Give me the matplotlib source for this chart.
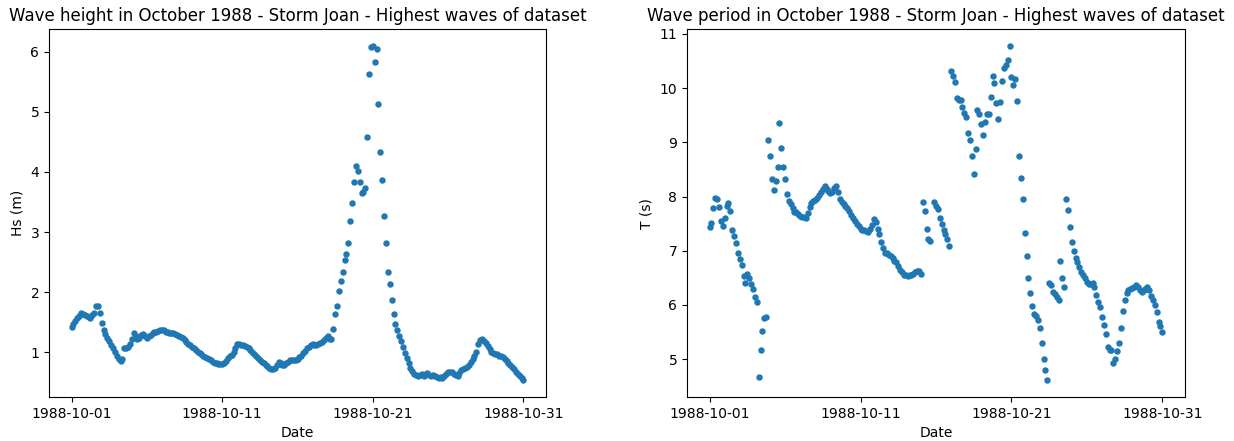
import numpy as np
import pandas as pd
import matplotlib
matplotlib.use("Agg")
import matplotlib.pyplot as plt
import matplotlib.dates as mdates

# 3-hourly wave record, 1988-10-01 00:00 to 1988-10-31 00:00
start = "1988-10-01"
end = "1988-10-31"
step = "3h"
tick_days = ["1988-10-01", "1988-10-11", "1988-10-21", "1988-10-31"]

# significant wave height (m), one row per day
hs = [
    1.42, 1.47, 1.52, 1.56, 1.60, 1.65, 1.63, 1.61,
    1.60, 1.58, 1.57, 1.62, 1.65, 1.77, 1.76, 1.65,
    1.49, 1.37, 1.30, 1.24, 1.18, 1.12, 1.06, 1.00,
    0.94, 0.89, 0.85, 0.88, 1.06, 1.07, 1.08, 1.13,
    1.22, 1.31, 1.27, 1.21, 1.24, 1.29, 1.30, 1.27,
    1.24, 1.27, 1.29, 1.31, 1.33, 1.33, 1.35, 1.36,
    1.37, 1.36, 1.34, 1.33, 1.31, 1.32, 1.32, 1.30,
    1.28, 1.26, 1.25, 1.23, 1.20, 1.17, 1.14, 1.11,
    1.08, 1.06, 1.03, 1.00, 0.98, 0.96, 0.93, 0.91,
    0.90, 0.88, 0.86, 0.84, 0.82, 0.81, 0.80, 0.80,
    0.80, 0.82, 0.85, 0.90, 0.93, 0.95, 1.00, 1.06,
    1.14, 1.13, 1.12, 1.11, 1.10, 1.09, 1.07, 1.04,
    1.00, 0.97, 0.93, 0.90, 0.87, 0.84, 0.81, 0.79,
    0.77, 0.74, 0.72, 0.71, 0.73, 0.78, 0.84, 0.82,
    0.79, 0.78, 0.81, 0.84, 0.86, 0.87, 0.86, 0.86,
    0.88, 0.91, 0.94, 0.98, 1.02, 1.06, 1.09, 1.12,
    1.13, 1.11, 1.12, 1.14, 1.15, 1.17, 1.20, 1.23,
    1.26, 1.22, 1.22, 1.39, 1.63, 1.76, 2.02, 2.19,
    2.34, 2.54, 2.64, 2.81, 3.19, 3.48, 3.83, 4.10,
    4.02, 3.84, 3.65, 3.67, 3.74, 4.59, 5.64, 6.09,
    6.10, 5.83, 6.05, 5.14, 4.34, 3.86, 3.26, 2.82,
    2.34, 2.13, 1.86, 1.64, 1.47, 1.37, 1.27, 1.18,
    1.08, 0.99, 0.90, 0.81, 0.74, 0.68, 0.64, 0.61,
    0.60, 0.62, 0.64, 0.60, 0.63, 0.65, 0.62, 0.60,
    0.62, 0.60, 0.58, 0.57, 0.58, 0.56, 0.60, 0.64,
    0.66, 0.67, 0.66, 0.64, 0.62, 0.60, 0.65, 0.70,
    0.72, 0.74, 0.75, 0.78, 0.83, 0.88, 0.93, 1.00,
    1.14, 1.20, 1.22, 1.19, 1.15, 1.10, 1.05, 1.00,
    0.98, 0.97, 0.96, 0.94, 0.93, 0.91, 0.88, 0.85,
    0.81, 0.78, 0.75, 0.71, 0.67, 0.63, 0.60, 0.57,
    0.53,
]

# wave period (s), one row per day; nan = missing record
period = [
    7.43, 7.51, 7.79, 7.97, 7.95, 7.80, 7.55, 7.46,
    7.61, 7.82, 7.88, 7.73, 7.38, 7.27, 7.15, 6.96,
    6.85, 6.73, 6.53, 6.41, 6.57, 6.50, 6.39, 6.30,
    6.15, 6.06, 4.67, 5.17, 5.52, 5.75, 5.77, 9.05,
    8.74, 8.33, 8.13, 8.29, 8.55, 9.35, 8.90, 8.55,
    8.33, 8.05, 7.92, 7.87, 7.78, 7.72, 7.71, 7.67,
    7.64, 7.63, 7.62, 7.61, 7.70, 7.80, 7.88, 7.91,
    7.93, 7.97, 8.02, 8.09, 8.14, 8.19, 8.14, 8.10,
    8.07, 8.08, 8.15, 8.20, 8.08, 7.96, 7.90, 7.86,
    7.83, 7.79, 7.74, 7.66, 7.60, 7.54, 7.49, 7.45,
    7.41, 7.39, 7.38, 7.37, 7.35, 7.40, 7.48, 7.59,
    7.53, 7.41, 7.30, 7.17, 7.06, 6.95, 6.95, 6.93,
    6.90, 6.86, 6.82, 6.79, 6.72, 6.65, 6.60, 6.56,
    6.55, 6.54, 6.55, 6.56, 6.58, 6.60, 6.62, 6.63,
    6.57, 7.90, 7.73, 7.41, 7.22, 7.18, np.nan, 7.90,
    7.82, 7.77, 7.60, 7.49, 7.38, 7.30, 7.22, 7.08,
    10.31, 10.23, 10.11, 9.82, 9.78, 9.78, 9.65, 9.55,
    9.46, 9.18, 9.05, 8.74, 8.41, 8.87, 9.60, 9.52,
    9.33, 9.13, 9.37, 9.52, 9.53, 9.84, 10.23, 10.09,
    9.72, 9.43, 9.74, 10.13, 10.38, 10.43, 10.52, 10.78,
    10.20, 10.05, 10.17, 9.77, 8.74, 8.34, 7.96, 7.33,
    6.90, 6.49, 6.22, 5.98, 5.84, 5.79, 5.72, 5.57,
    5.30, 5.00, 4.80, 4.61, 6.41, 6.36, 6.24, 6.20,
    6.15, 6.09, 6.82, 6.50, 6.34, 7.96, 7.76, 7.43,
    7.17, 6.99, 6.87, 6.79, 6.70, 6.61, 6.55, 6.49,
    6.42, 6.39, 6.39, 6.41, 6.33, 6.18, 6.06, 5.96,
    5.78, 5.63, 5.47, 5.23, 5.17, 5.17, 4.92, 5.01,
    5.15, 5.30, 5.58, 5.88, 6.10, 6.22, 6.28, 6.30,
    6.32, 6.34, 6.36, 6.33, 6.28, 6.24, 6.27, 6.30,
    6.33, 6.27, 6.16, 6.09, 5.99, 5.87, 5.69, 5.61,
    5.50,
]

dates = pd.date_range(start, end, freq=step)

fig = plt.figure(figsize=(12.34, 4.41), dpi=100)
ax1 = fig.add_axes([0.0397, 0.0998, 0.4028, 0.834])
ax2 = fig.add_axes([0.5567, 0.0998, 0.4036, 0.834])

ax1.scatter(dates, hs, s=13)
ax1.set_title("Wave height in October 1988 - Storm Joan - Highest waves of dataset")
ax1.set_xlabel("Date")
ax1.set_ylabel("Hs (m)")

ax2.scatter(dates, period, s=13)
ax2.set_title("Wave period in October 1988 - Storm Joan - Highest waves of dataset")
ax2.set_xlabel("Date")
ax2.set_ylabel("T (s)")

for ax in (ax1, ax2):
    ax.set_xticks(pd.to_datetime(tick_days))
    ax.xaxis.set_major_formatter(mdates.DateFormatter("%Y-%m-%d"))

fig.savefig("out.png", dpi=100)
